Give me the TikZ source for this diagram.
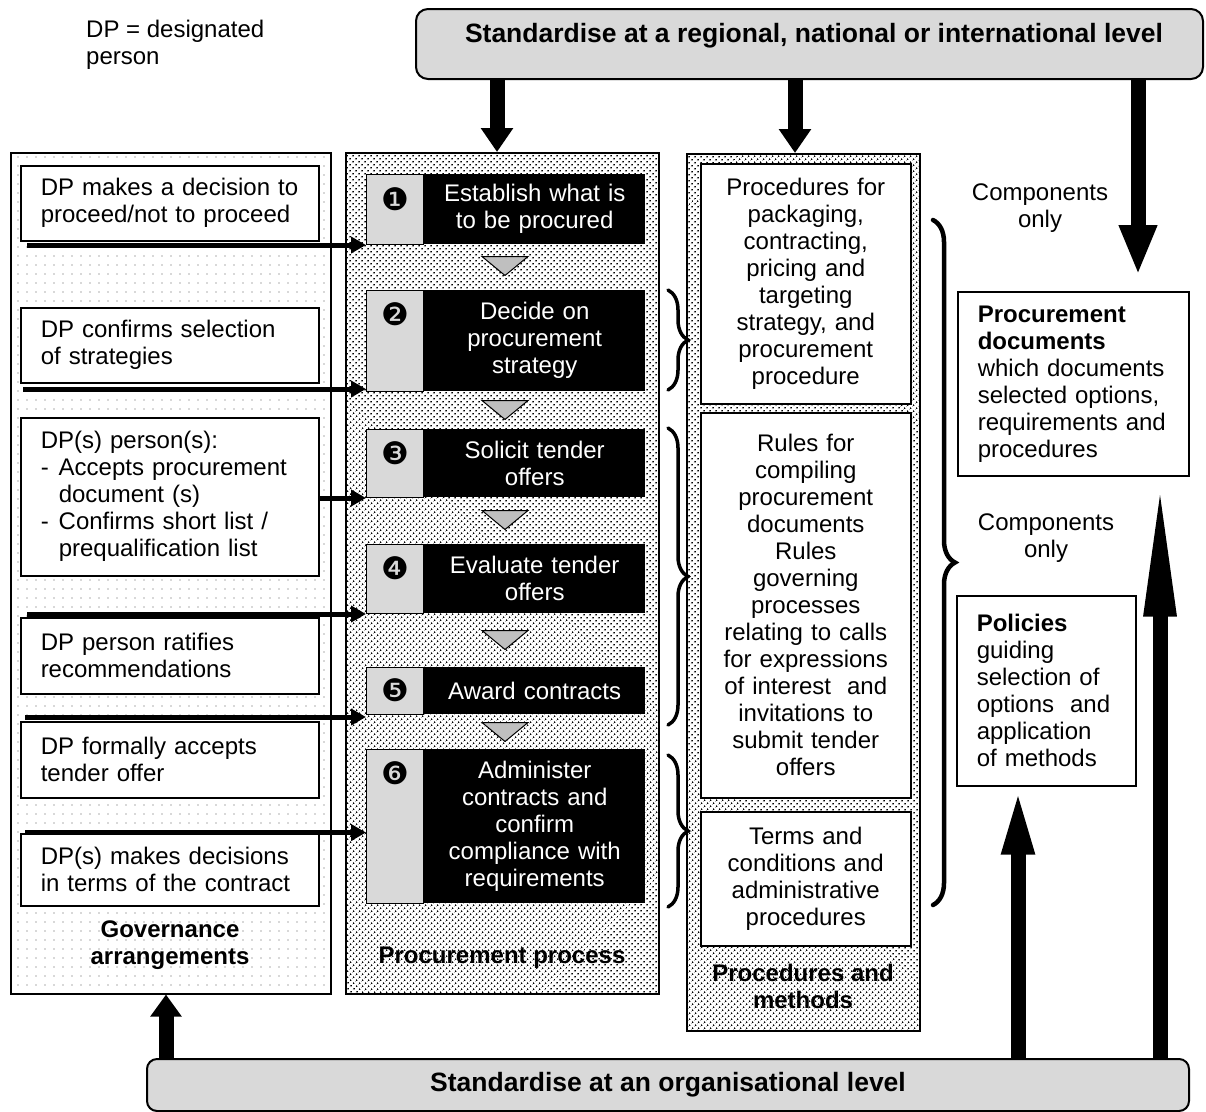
\documentclass[tikz,border=0pt]{standalone}
\usepackage{fontspec}
\setmainfont{Liberation Sans}
\newfontfamily\dingfont{DejaVu Sans}
\usetikzlibrary{arrows.meta,patterns.meta,decorations.pathreplacing}
\definecolor{bannergray}{HTML}{D9D9D9}
\definecolor{stepgray}{HTML}{D9D9D9}
\definecolor{trigray}{HTML}{BFBFBF}
\newcommand\bodyfs{\fontsize{24}{27}\selectfont}
\newcommand\titlefs{\fontsize{26.5}{30}\selectfont\bfseries}
\begin{document}
\begin{tikzpicture}[x=1pt,y=-1pt,
  col/.style={draw, line width=1.5pt, anchor=north west, inner sep=0pt},
  sparse/.style={pattern={Dots[distance=9pt,radius=0.6pt]}, pattern color=black!65},
  dense/.style={pattern={Dots[distance=4pt,angle=45,radius=1.05pt]}, pattern color=black},
  lbox/.style={draw, line width=1.5pt, fill=white, anchor=north west, minimum width=298pt, text width=258pt, inner xsep=20pt, inner ysep=0pt, align=left, font=\bodyfs},
  rbox/.style={draw, line width=1.5pt, fill=white, anchor=north west, minimum width=210pt, text width=206pt, inner xsep=2pt, inner ysep=0pt, align=center, font=\bodyfs},
  stepbox/.style={fill=black, text=white, anchor=north west, minimum width=221pt, text width=217pt, inner xsep=2pt, inner ysep=0pt, align=center, font=\bodyfs},
  stepgraybox/.style={fill=stepgray, draw=black, line width=1pt, anchor=north east, minimum width=57pt, inner sep=0pt},
  num/.style={font=\dingfont\fontsize{31}{31}\selectfont, inner sep=0pt},
  tri/.style={fill=trigray, draw=black, line width=1pt, line join=miter},
  banner/.style={draw, line width=2pt, fill=bannergray, rounded corners=12pt, anchor=north west, inner sep=0pt},
  thinarrow/.style={line width=5pt, -{Triangle[length=15pt,width=16pt]}},
  fatarrow/.style n args={2}{line width=15pt, -{Triangle[length=#1,width=#2]}},
  bracestyle/.style={decorate, decoration={brace, amplitude=#1, aspect=0.5}, line width=3.5pt, line cap=round},
  collabel/.style={font=\fontsize{24}{27}\selectfont\bfseries, align=center, inner sep=0pt},
  plain/.style={font=\bodyfs, inner sep=0pt},
]
\useasboundingbox (0,0) rectangle (1206,1111);
\fill[white] (0,0) rectangle (1206,1111);

% legend
\node[plain, anchor=west, align=left] (legend) at (86,45) {DP = designated\\person};

% banners
\node[banner, minimum width=787pt, minimum height=70pt] (top) at (415,8) {};
\node[font=\titlefs, inner sep=0pt] (toptext) at (814,36) {Standardise at a regional, national or international level};
\node[banner, rounded corners=10pt, minimum width=1042pt, minimum height=52pt] (bot) at (146,1058) {};
\node[font=\titlefs, inner sep=0pt] (bottext) at (668,1085) {Standardise at an organisational level};

% columns
\node[col, sparse, minimum width=320pt, minimum height=841pt] (gov) at (10,152) {};
\node[col, dense, minimum width=313pt, minimum height=841pt] (proc) at (345,152) {};
\node[col, dense, minimum width=233pt, minimum height=877pt] (pm) at (686,153) {};

\node[collabel] (govlabel) at (170,945) {Governance\\arrangements};
\node[collabel] (proclabel) at (502,958) {Procurement process};
\node[collabel] (pmlabel) at (803,986) {Procedures and\\methods};

% governance boxes
\node[lbox, minimum height=75pt] (l1) at (20,165) {DP makes a decision to\\proceed/not to proceed};
\node[lbox, minimum height=75pt] (l2) at (20,307) {DP confirms selection\\of strategies};
\node[lbox, minimum height=158pt] (l3) at (20,417) {DP(s) person(s):\\\makebox[18pt][l]{-}Accepts procurement\\\hspace*{18pt}document (s)\\\makebox[18pt][l]{-}Confirms short list /\\\hspace*{18pt}prequalification list};
\node[lbox, minimum height=76pt] (l4) at (20,617) {DP person ratifies\\recommendations};
\node[lbox, minimum height=76pt] (l5) at (20,721) {DP formally accepts\\tender offer};
\node[lbox, minimum height=72pt] (l6) at (20,833) {DP(s) makes decisions\\in terms of the contract};

% procurement steps
\node[stepbox, minimum height=70pt] (s1) at (424,174) {Establish what is\\to be procured};
\node[stepbox, minimum height=101pt] (s2) at (424,290) {Decide on\\procurement\\strategy};
\node[stepbox, minimum height=68pt] (s3) at (424,429) {Solicit tender\\offers};
\node[stepbox, minimum height=69pt] (s4) at (424,544) {Evaluate tender\\offers};
\node[stepbox, minimum height=47pt, text width=195pt] (s5) at (424,667) {Award contracts};
\node[stepbox, minimum height=154pt] (s6) at (424,749) {Administer\\contracts and\\confirm\\compliance with\\requirements};
\foreach \i/\h in {1/70,2/101,3/68,4/69,5/47,6/154}{
  \node[stepgraybox, minimum height=\h pt] (g\i) at (s\i.north west) {};
}
\node[num] (n1) at ([yshift=-25pt]g1.north) {❶};
\node[num] (n2) at ([yshift=-24pt]g2.north) {❷};
\node[num] (n3) at ([yshift=-24pt]g3.north) {❸};
\node[num] (n4) at ([yshift=-24pt]g4.north) {❹};
\node[num] (n5) at ([yshift=-23pt]g5.north) {❺};
\node[num] (n6) at ([yshift=-24pt]g6.north) {❻};

% flow triangles
\foreach \m in {266,410,520,640,732}{
  \draw[tri] (482,{\m-9.5}) -- (528,{\m-9.5}) -- (505,{\m+9.5}) -- cycle;
}

% procedures and methods boxes
\node[rbox, minimum height=240pt] (pa) at (700,163) {Procedures for\\packaging,\\contracting,\\pricing and\\targeting\\strategy, and\\procurement\\procedure};
\node[rbox, minimum height=385pt] (pb) at (700,412) {Rules for\\compiling\\procurement\\documents\\Rules\\governing\\processes\\relating to calls\\for expressions\\of interest\ \ and\\invitations to\\submit tender\\offers};
\node[rbox, minimum height=134pt] (pc) at (700,811) {Terms and\\conditions and\\administrative\\procedures};

% right boxes
\node[draw, line width=1.5pt, fill=white, anchor=north west, minimum width=231pt, minimum height=184pt, text width=191pt, inner xsep=20pt, inner ysep=0pt, align=left, font=\bodyfs] (pd) at (957,291) {\textbf{Procurement}\\\textbf{documents}\\which documents\\selected options,\\requirements and\\procedures};
\node[draw, line width=1.5pt, fill=white, anchor=north west, minimum width=179pt, minimum height=190pt, text width=139pt, inner xsep=20pt, inner ysep=0pt, align=left, font=\bodyfs] (pol) at (956,595) {\textbf{Policies}\\guiding\\selection of\\options\ \ and\\application\\of methods};

\node[plain, align=center] (cmp1) at (1040,208) {Components\\only};
\node[plain, align=center] (cmp2) at (1046,538) {Components\\only};

% braces
\draw[bracestyle=20pt] (668,290) -- (668,390);
\draw[bracestyle=20pt] (668,428) -- (668,725);
\draw[bracestyle=20pt] (668,755) -- (668,907);
\draw[bracestyle=22pt, line width=4.5pt] (933,220) -- (933,905);

% thin arrows from governance to steps
\draw[thinarrow] ([xshift=7pt]l1.west |- g1.south west) -- (g1.south west);
\draw[thinarrow] ([xshift=3pt]l2.west |- g2.south west) ++(0,-3) -- ([yshift=3pt]g2.south west);
\draw[thinarrow] (l3.east |- g3.south west) -- (g3.south west);
\draw[thinarrow] ([xshift=7pt]l4.west |- g4.south west) -- (g4.south west);
\draw[thinarrow] ([xshift=5pt]l5.west |- g5.south west) ++(0,2) -- ([yshift=-2pt]g5.south west);
\draw[thinarrow] ([xshift=5pt]l6.west |- g6.west) ++(0,6) -- ([yshift=-6pt]g6.west);

% fat arrows
\coordinate (xa) at (497,0);
\coordinate (xb) at (795,0);
\coordinate (xc) at (1138,0);
\coordinate (xd) at (166,0);
\coordinate (xe) at (1018,0);
\coordinate (xf) at (1160,0);
\draw[fatarrow={24pt}{31pt}] (top.south -| xa) -- (proc.north -| xa);
\draw[fatarrow={24pt}{31pt}] (top.south -| xb) -- (pm.north -| xb);
\draw[fatarrow={50pt}{35pt}] (top.south -| xc) -- ([yshift=16pt]pd.north -| xc);
\draw[fatarrow={22pt}{30pt}] (bot.north -| xd) -- (gov.south -| xd);
\draw[fatarrow={68pt}{29pt}] (bot.north -| xe) -- (pol.south -| xe);
\draw[fatarrow={140pt}{29pt}] (bot.north -| xf) -- (pd.south -| xf);
\end{tikzpicture}
\end{document}
